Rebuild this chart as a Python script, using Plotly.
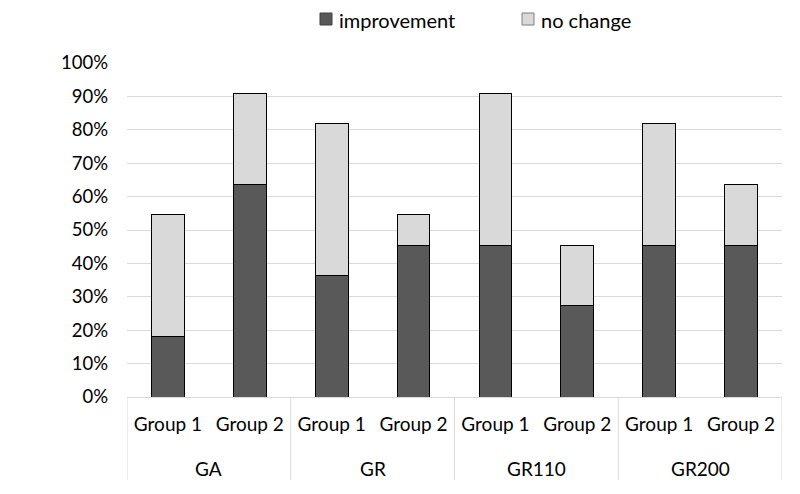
import plotly.graph_objects as go

methods = ["GA", "GA", "GR", "GR", "GR110", "GR110", "GR200", "GR200"]
groups = ["Group 1", "Group 2"] * 4
improvement = [18.2, 63.6, 36.4, 45.5, 45.5, 27.3, 45.5, 45.5]
no_change = [36.4, 27.3, 45.5, 9.1, 45.5, 18.2, 36.4, 18.2]
y_ticks = [0, 10, 20, 30, 40, 50, 60, 70, 80, 90, 100]

FONT = "Lato, 'Open Sans', sans-serif"
DARK = "#595959"
LIGHT = "#D9D9D9"
GRID = "#D9D9D9"

W, H = 800, 494
L, R, T, B = 119, 26, 55, 105
PW, PH = W - L - R, H - T - B


def px(fx):
    return (fx - L) / PW


def py(fy):
    return (H - B - fy) / PH


keys = [f"{m}|{g}" for m, g in zip(methods, groups)]

fig = go.Figure()
fig.add_trace(go.Bar(x=keys, y=improvement, name="improvement",
                     marker=dict(color=DARK, line=dict(color="#000000", width=1)),
                     width=0.4, showlegend=False))
fig.add_trace(go.Bar(x=keys, y=no_change, name="no change",
                     marker=dict(color=LIGHT, line=dict(color="#000000", width=1)),
                     width=0.4, showlegend=False))

# method-level labels and dividers
unique_methods = list(dict.fromkeys(methods))
for m in unique_methods:
    idx = [i for i, mm in enumerate(methods) if mm == m]
    fig.add_annotation(x=sum(idx) / len(idx), y=py(460), xref="x", yref="paper",
                       text=m, showarrow=False, font=dict(size=19, color="#000000"),
                       xanchor="center", yanchor="middle")
n = len(keys)
bounds = [-0.5]
for i in range(1, n + 1):
    if i == n or methods[i] != methods[i - 1]:
        bounds.append(i - 0.5)
for b in bounds:
    fig.add_shape(type="line", xref="x", yref="paper", x0=b, x1=b, y0=0, y1=py(472),
                  line=dict(color=GRID, width=1))

# legend built by hand to match the reference layout
legend_items = [("improvement", DARK, "#404040", 312, 329),
                ("no change", LIGHT, "#7F7F7F", 514, 531)]
for name, fill, edge, sx, tx in legend_items:
    fig.add_shape(type="rect", xref="paper", yref="paper",
                  x0=px(sx), x1=px(sx + 12), y0=py(5), y1=py(17),
                  fillcolor=fill, line=dict(color=edge, width=1))
    fig.add_annotation(x=px(tx), y=py(12), xref="paper", yref="paper", text=name,
                       showarrow=False, xanchor="left", yanchor="middle",
                       font=dict(size=20, color="#000000"))

fig.update_layout(
    barmode="stack",
    width=W, height=H,
    margin=dict(l=L, r=R, t=T, b=B),
    plot_bgcolor="white", paper_bgcolor="white",
    font=dict(family=FONT, size=19, color="#000000"),
    showlegend=False,
)
fig.update_yaxes(range=[0, 100], tickvals=y_ticks,
                 ticktext=[f"{v}%" for v in y_ticks],
                 showgrid=True, gridcolor=GRID, gridwidth=1,
                 zeroline=False, showline=False, ticks="",
                 ticklabelstandoff=18, tickfont=dict(size=18.5))
fig.update_xaxes(type="category", range=[-0.5, n - 0.5], tickvals=keys, ticktext=groups,
                 showline=True, linecolor=GRID, linewidth=1, showgrid=False,
                 ticks="", ticklabelstandoff=10, tickfont=dict(size=19), automargin=False)

fig.write_html("out.html")
